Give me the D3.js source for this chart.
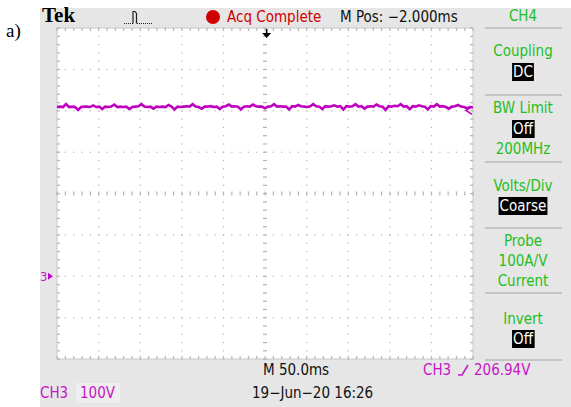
<!DOCTYPE html>
<meta charset="utf-8">
<style>
    body { margin: 0; background: #fff; }
    text { font-family: "DejaVu Sans Condensed", "DejaVu Sans", sans-serif; font-size: 15px; }
    .mag { fill: #c814c8; }
    .grid { fill: #b4b4b4; }
    .sep { stroke: #c4c4c4; stroke-width: 2px; }
</style>
<script src="https://d3js.org/d3.v7.min.js"></script>

<body>
    <div id="scope"></div>
    <script>
        // CH3 trace, volts (100 V/div, ground marker at 0)
        var ch3 = [409, 410, 409, 416, 409, 410, 409, 402, 409, 410, 410, 409, 413, 409, 410, 404, 410, 409, 410, 415,
            409, 410, 409, 410, 404, 409, 410, 411, 416, 410, 409, 410, 405, 410, 409, 410, 409, 414, 410, 403,
            410, 409, 410, 411, 410, 416, 410, 409, 405, 410, 410, 411, 409, 410, 404, 410, 411, 415, 410, 411,
            410, 403, 410, 411, 410, 415, 411, 410, 410, 406, 410, 411, 416, 410, 411, 410, 410, 403, 411, 410,
            414, 411, 410, 409, 411, 416, 411, 410, 404, 411, 410, 411, 413, 410, 411, 403, 411, 410, 411, 416,
            410, 411, 405, 410, 411, 410, 415, 411, 410, 402, 411, 410, 412, 411, 416, 410, 411, 404, 411, 410,
            413, 411, 410, 403, 411, 410, 416, 410, 411, 409, 405, 410, 411, 414, 410, 409, 406, 409, 408];
        var timeRange = [-252, 248]; // ms, 50 ms/div, M Pos -2.000 ms
        var voltRange = [-200, 600]; // 8 div at 100 V/div
        var sidePanel = [
            { label: "CH4", y: 16 },
            { label: "Coupling", y: 51 },
            { label: "DC", y: 72, box: true },
            { label: "BW Limit", y: 108 },
            { label: "Off", y: 129, box: true },
            { label: "200MHz", y: 149 },
            { label: "Volts/Div", y: 186 },
            { label: "Coarse", y: 206, box: true },
            { label: "Probe", y: 241 },
            { label: "100A/V", y: 261 },
            { label: "Current", y: 281 },
            { label: "Invert", y: 319 },
            { label: "Off", y: 339, box: true }
        ];
        var separators = [28, 95, 162, 228, 293, 360];

        var W = 571, H = 407;
        var svg = d3.select("#scope").append("svg")
            .attr("width", W)
            .attr("height", H);

        var plot = { left: 57, right: 473, top: 28, bottom: 359 };

        var x = d3.scaleLinear().domain(timeRange).range([plot.left, plot.right]);
        var y = d3.scaleLinear().domain(voltRange).range([plot.bottom, plot.top]);
        var t = d3.scaleLinear().domain([0, ch3.length - 1]).range(timeRange);

        // panel background
        svg.append("rect").attr("x", 40).attr("y", 8).attr("width", W - 40).attr("height", H - 8)
            .attr("fill", "#e6e6e6");
        svg.append("rect").attr("x", plot.left).attr("y", plot.top)
            .attr("width", plot.right - plot.left).attr("height", plot.bottom - plot.top)
            .attr("fill", "#fff").attr("stroke", "#c8c8c8").attr("stroke-width", 1);

        svg.append("text").attr("x", 6).attr("y", 37)
            .style("font-family", "'Liberation Serif', serif").style("font-size", "19px")
            .text("a)");

        // graticule
        var g = svg.append("g");
        var xDiv = d3.range(0, 11).map(function(i) { return timeRange[0] + i * 50; });
        var yDiv = d3.range(0, 9).map(function(i) { return voltRange[0] + i * 100; });
        var xMinor = d3.range(0, 51).map(function(i) { return timeRange[0] + i * 10; });
        var yMinor = d3.range(0, 41).map(function(i) { return voltRange[0] + i * 20; });
        var xc = timeRange[0] + 250, yc = voltRange[0] + 400;

        // dotted division lines
        xDiv.slice(1, -1).forEach(function(tv) {
            if (tv === xc) return;
            g.selectAll(null).data(yMinor).enter().append("rect").attr("class", "grid")
                .attr("x", x(tv) - 0.5).attr("y", function(d) { return y(d) - 0.5; })
                .attr("width", 1.2).attr("height", 1.2);
        });
        yDiv.slice(1, -1).forEach(function(vv) {
            if (vv === yc) return;
            g.selectAll(null).data(xMinor).enter().append("rect").attr("class", "grid")
                .attr("x", function(d) { return x(d) - 0.5; }).attr("y", y(vv) - 0.5)
                .attr("width", 1.2).attr("height", 1.2);
        });
        // centre lines with minor ticks
        g.selectAll(null).data(xMinor).enter().append("rect").attr("class", "grid")
            .attr("x", function(d) { return x(d) - 0.5; }).attr("y", y(yc) - 2)
            .attr("width", 1.2).attr("height", 4);
        g.selectAll(null).data(yMinor).enter().append("rect").attr("class", "grid")
            .attr("x", x(xc) - 2).attr("y", function(d) { return y(d) - 0.5; })
            .attr("width", 4).attr("height", 1.2);
        // edge ticks
        g.selectAll(null).data(xMinor).enter().append("rect").attr("class", "grid")
            .attr("x", function(d) { return x(d) - 0.5; }).attr("y", plot.top)
            .attr("width", 1.2).attr("height", 3);
        g.selectAll(null).data(xMinor).enter().append("rect").attr("class", "grid")
            .attr("x", function(d) { return x(d) - 0.5; }).attr("y", plot.bottom - 3)
            .attr("width", 1.2).attr("height", 3);
        g.selectAll(null).data(yMinor).enter().append("rect").attr("class", "grid")
            .attr("x", plot.left).attr("y", function(d) { return y(d) - 0.5; })
            .attr("width", 3).attr("height", 1.2);
        g.selectAll(null).data(yMinor).enter().append("rect").attr("class", "grid")
            .attr("x", plot.right - 3).attr("y", function(d) { return y(d) - 0.5; })
            .attr("width", 3).attr("height", 1.2);

        // trace
        var line = d3.line()
            .x(function(d, i) { return x(t(i)); })
            .y(function(d) { return y(d); });
        svg.append("path").datum(ch3)
            .attr("fill", "none").attr("stroke", "#c000c0").attr("stroke-width", 2.6)
            .attr("stroke-linejoin", "miter")
            .attr("d", line);

        // trigger level marker (right) and ground marker (left)
        var trig = 206.94;
        svg.append("path")
            .attr("d", "M" + (plot.right - 1) + "," + (y(ch3[ch3.length - 1]) - 1) + " l-6,4 l6,4")
            .attr("fill", "none").attr("stroke", "#c000c0").attr("stroke-width", 1.5);
        svg.append("text").attr("class", "mag").attr("x", 40).attr("y", y(0) + 5)
            .style("font-size", "13px").text("3");
        svg.append("path")
            .attr("d", "M48," + (y(0) - 3.5) + " l5,3.5 l-5,3.5 z")
            .attr("fill", "#c000c0");

        // trigger position marker (top)
        svg.append("path")
            .attr("d", "M" + (x(0) - 4.5) + ",33 h9 l-4.5,5 z M" + (x(0) - 0.8) + ",29 h1.6 v5 h-1.6 z")
            .attr("fill", "#000");

        // header
        svg.append("text").attr("x", 42).attr("y", 22)
            .style("font-family", "'Liberation Serif', serif").style("font-weight", "bold").style("font-size", "21px")
            .text("Tek");
        svg.append("path")
            .attr("d", "M124,23.5 h9")
            .attr("stroke", "#222").attr("stroke-width", 1.2).attr("stroke-dasharray", "1,1");
        svg.append("path")
            .attr("d", "M133,23.5 v-12 h2 l1.5,2 v10")
            .attr("fill", "none").attr("stroke", "#222").attr("stroke-width", 1.2);
        svg.append("path")
            .attr("d", "M137,23.5 h16")
            .attr("stroke", "#222").attr("stroke-width", 1.2).attr("stroke-dasharray", "1,1");
        svg.append("circle").attr("cx", 213).attr("cy", 17).attr("r", 7).attr("fill", "#d00000");
        svg.append("text").attr("x", 227).attr("y", 22).attr("fill", "#d00000").text("Acq Complete");
        svg.append("text").attr("x", 340).attr("y", 22).attr("fill", "#111").text("M Pos: \u22122.000ms");

        // side panel
        svg.selectAll(".sep").data(separators).enter().append("line").attr("class", "sep")
            .attr("x1", 485).attr("x2", 562).attr("y1", function(d) { return d; }).attr("y2", function(d) { return d; });
        var side = svg.selectAll(".side").data(sidePanel).enter().append("g").attr("class", "side");
        side.append("text")
            .attr("x", 523).attr("y", function(d) { return d.y + 5; })
            .attr("text-anchor", "middle")
            .attr("fill", function(d) { return d.box ? "#fff" : "#1fbf1f"; })
            .text(function(d) { return d.label; })
            .each(function(d) {
                if (!d.box) return;
                var b = this.getBBox();
                d3.select(this.parentNode).insert("rect", "text")
                    .attr("x", b.x - 1).attr("y", d.y - 9).attr("width", b.width + 2).attr("height", 18)
                    .attr("fill", "#000");
            });

        // footer
        svg.append("text").attr("x", 263).attr("y", 375).attr("fill", "#111").text("M 50.0ms");
        svg.append("text").attr("class", "mag").attr("x", 423).attr("y", 375).text("CH3");
        svg.append("path").attr("d", "M458,375 h4 l6,-10")
            .attr("fill", "none").attr("stroke", "#c814c8").attr("stroke-width", 1.5);
        svg.append("text").attr("class", "mag").attr("x", 474).attr("y", 375).text(trig.toFixed(2) + "V");
        svg.append("rect").attr("x", 76).attr("y", 383).attr("width", 44).attr("height", 20).attr("fill", "#eeeeee");
        svg.append("text").attr("class", "mag").attr("x", 40).attr("y", 398).text("CH3");
        svg.append("text").attr("class", "mag").attr("x", 80).attr("y", 398).text("100V");
        svg.append("text").attr("x", 252).attr("y", 398).attr("fill", "#111").text("19\u2212Jun\u221220 16:26");
    </script>
</body>
